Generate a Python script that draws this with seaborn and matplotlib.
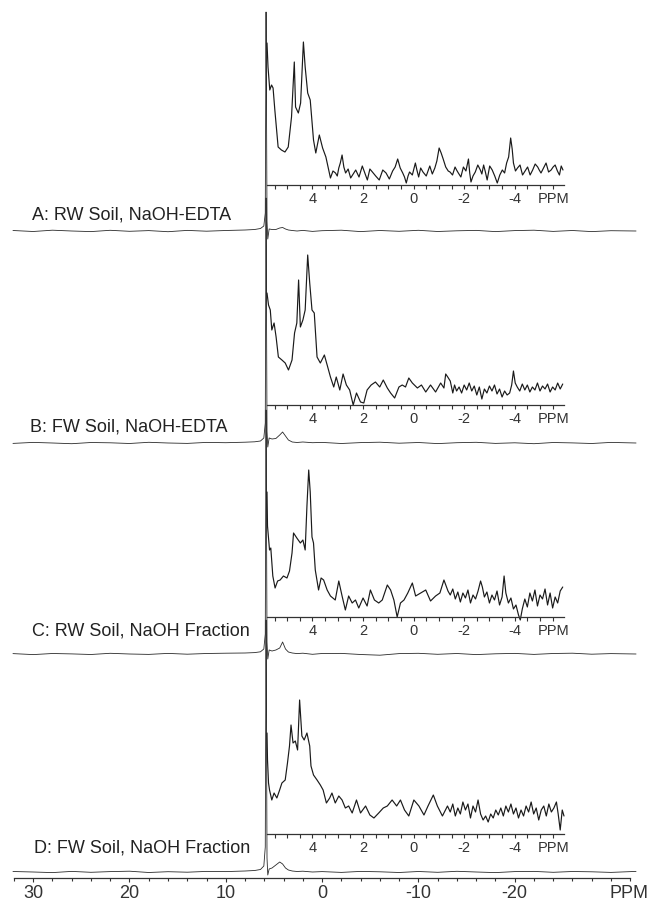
import matplotlib
matplotlib.use("Agg")
import numpy as np
import seaborn as sns
import matplotlib.pyplot as plt
from matplotlib.ticker import FixedLocator, MultipleLocator

# panel labels
labels = ["A: RW Soil, NaOH-EDTA", "B: FW Soil, NaOH-EDTA",
          "C: RW Soil, NaOH Fraction", "D: FW Soil, NaOH Fraction"]

# full 31P spectra, shared ppm grid
main_ppm = [32.1, 30, 28, 26, 24, 22, 20, 18, 16, 14, 12, 10, 8,
            7, 6.4, 6.05, 5.9, 5.82, 5.78, 5.72, 5.64, 5.5, 5.2, 4.8, 4.4, 4.1, 3.8, 3.5, 3.1, 2.6, 2, 1, 0,
            -2, -4, -6, -8, -10, -12, -14, -16, -18, -20, -22, -24, -26, -28, -30, -32.6]
main_A = [0.5, -0.5, 0.8, 0, -0.6, 0.7, -0.3, 0.4, -0.7, 0.6, -0.2, 0.5, 1,
          1.5, 2.5, 5, 18, 219, 140, 10, -8, 2, 1.5, 1.5, 3, 3.5, 2, 1, 0.5, 0, 0.6, -0.4, 0.3,
          0.8, -0.6, 0.5, -0.3, 0.7, -0.5, 0.2, 0.6, -0.6, 0.4, 0.8, -0.4, 0.5, -0.6, 0.3, 0]
main_B = [-0.4, 0.6, 0, -0.7, 0.5, 0.2, -0.5, 0.7, 0, -0.4, 0.6, 0.3, 0.8,
          1.2, 2, 5, 20, 245, 150, 12, -4, 5, 4, 4.5, 8, 11, 7, 3, 1, 0.5, 1, 0.3, 0.6,
          -0.5, 0.4, 0.8, -0.2, 0.5, -0.6, 0.3, 0.7, -0.4, 0.2, -0.7, 0.5, 0.1, -0.5, 0.6, 0]
main_C = [0.4, -0.6, 0.5, 0.1, -0.5, 0.7, 0, -0.4, 0.6, -0.2, 0.5, 0.8, 1,
          1.4, 2.2, 5, 20, 244, 150, 12, -5, 4, 3, 4, 6, 12, 5, 2, 1, 0.4, 0.8, -0.3, 0.5,
          0.6, -0.5, -1.2, 0.4, 0.7, -0.3, 0.5, -0.6, 0.2, 0.6, -0.4, 0.5, 0.8, -0.2, 0.4, 0]
main_D = [0.5, 0, -0.6, 0.6, -0.3, 0.4, 0.8, -0.5, 0.3, -0.2, 0.6, 0.4, 1,
          1.5, 2.5, 6, 25, 252, 160, 14, -3, 3, 4, 7, 10, 8, 4, 2, 1, 0.5, 0.8, 0, 0.4,
          -0.4, 0.6, 0.2, -0.5, 0.5, -0.3, 0.7, 0, -0.6, 0.4, 0.6, -0.3, 0.5, 0.2, -0.4, 0.6]

# expanded regions (inset traces)
inset_A_ppm = [5.8, 5.76, 5.69, 5.62, 5.56, 5.49, 5.36, 5.23, 5.09, 4.96,
               4.83, 4.72, 4.67, 4.56, 4.47, 4.36, 4.29, 4.19, 4.09, 3.96,
               3.87, 3.73, 3.6, 3.47, 3.29, 3.19, 3.09, 3.02, 2.96, 2.9,
               2.83, 2.76, 2.69, 2.59, 2.49, 2.39, 2.29, 2.16, 2.03, 1.93,
               1.83, 1.73, 1.63, 1.5, 1.36, 1.22, 1.09, 0.96, 0.83, 0.73,
               0.63, 0.53, 0.43, 0.36, 0.29, 0.22, 0.16, 0.05, -0.07, -0.13,
               -0.2, -0.28, -0.37, -0.5, -0.64, -0.74, -0.84, -0.92, -1.01, -1.09,
               -1.17, -1.27, -1.37, -1.44, -1.54, -1.64, -1.7, -1.77, -1.87, -1.97,
               -2.07, -2.17, -2.22, -2.27, -2.35, -2.44, -2.54, -2.64, -2.7, -2.77,
               -2.84, -2.91, -3.01, -3.11, -3.21, -3.31, -3.41, -3.51, -3.6, -3.68,
               -3.76, -3.84, -3.9, -3.95, -4.03, -4.11, -4.21, -4.31, -4.41, -4.51,
               -4.61, -4.71, -4.81, -4.91, -4.97, -5.04, -5.14, -5.24, -5.34, -5.44,
               -5.52, -5.6, -5.69, -5.77, -5.84, -5.91]
inset_A = [142, 118, 95, 100, 97, 75, 38, 35, 33, 38,
           68, 123, 78, 72, 82, 143, 118, 92, 85, 45,
           32, 50, 37, 28, 7, 14, 12, 9, 17, 22,
           30, 18, 12, 16, 7, 11, 15, 8, 19, 12,
           5, 16, 13, 9, 5, 15, 12, 6, 14, 18,
           26, 17, 12, 8, 2, 9, 13, 10, 22, 15,
           8, 17, 13, 9, 19, 11, 17, 24, 37, 32,
           26, 18, 14, 13, 10, 18, 15, 12, 8, 18,
           14, 26, 12, 3, 9, 13, 20, 15, 11, 20,
           13, 5, 19, 15, 9, 2, 10, 15, 12, 22,
           28, 47, 36, 22, 14, 17, 20, 10, 14, 18,
           10, 15, 21, 18, 15, 12, 17, 22, 13, 15,
           18, 20, 14, 10, 19, 15]

inset_B_ppm = [5.8, 5.74, 5.67, 5.61, 5.52, 5.44, 5.35, 5.21, 5.08, 4.95, 4.81,
               4.71, 4.62, 4.55, 4.48, 4.38, 4.29, 4.19, 4.11, 4.02, 3.93,
               3.82, 3.69, 3.53, 3.42, 3.29, 3.16, 3.06, 2.92, 2.79, 2.66,
               2.53, 2.39, 2.26, 2.1, 1.97, 1.84, 1.68, 1.51, 1.34, 1.2,
               1.04, 0.91, 0.75, 0.58, 0.45, 0.32, 0.19, 0.05, -0.15, -0.31,
               -0.48, -0.67, -0.87, -1.07, -1.2, -1.27, -1.35, -1.45, -1.55, -1.62,
               -1.7, -1.8, -1.9, -2.0, -2.1, -2.2, -2.3, -2.4, -2.5, -2.6,
               -2.7, -2.8, -2.9, -3.0, -3.1, -3.2, -3.3, -3.4, -3.5, -3.6,
               -3.7, -3.8, -3.88, -3.95, -4.02, -4.1, -4.2, -4.3, -4.4, -4.5,
               -4.6, -4.7, -4.8, -4.9, -5.0, -5.1, -5.2, -5.3, -5.4, -5.5,
               -5.6, -5.7, -5.8, -5.9]
inset_B = [112, 100, 95, 75, 82, 68, 48, 45, 42, 35, 45,
           72, 82, 125, 78, 85, 95, 150, 122, 95, 92,
           48, 42, 50, 40, 28, 18, 28, 15, 31, 20,
           15, 0, 12, 3, 2, 15, 20, 23, 18, 25,
           17, 12, 7, 18, 20, 18, 27, 22, 17, 20,
           13, 20, 13, 22, 17, 31, 28, 24, 12, 20,
           14, 18, 12, 20, 15, 22, 14, 19, 10, 18,
           6, 16, 12, 19, 14, 20, 11, 16, 8, 14,
           10, 12, 20, 34, 22, 18, 14, 21, 15, 20,
           13, 18, 15, 22, 14, 19, 16, 21, 13, 18,
           15, 22, 16, 21]

inset_C_ppm = [5.8, 5.78, 5.7, 5.65, 5.57, 5.48, 5.38, 5.28, 5.15, 5.01,
               4.91, 4.81, 4.75, 4.62, 4.48, 4.38, 4.29, 4.22, 4.15, 4.09,
               4.02, 3.96, 3.89, 3.76, 3.66, 3.56, 3.42, 3.29, 3.1, 2.96,
               2.83, 2.7, 2.57, 2.43, 2.3, 2.17, 2.0, 1.84, 1.71, 1.55,
               1.38, 1.24, 1.04, 0.91, 0.78, 0.65, 0.52, 0.38, 0.23, 0.05,
               -0.08, -0.28, -0.48, -0.67, -0.87, -1.04, -1.2, -1.36, -1.45, -1.55,
               -1.65, -1.75, -1.85, -1.95, -2.05, -2.15, -2.25, -2.35, -2.45, -2.55,
               -2.65, -2.72, -2.8, -2.9, -3.0, -3.1, -3.2, -3.3, -3.4, -3.5,
               -3.58, -3.65, -3.75, -3.85, -3.95, -4.05, -4.15, -4.22, -4.3, -4.4,
               -4.5, -4.6, -4.7, -4.8, -4.9, -5.0, -5.1, -5.2, -5.3, -5.4,
               -5.5, -5.6, -5.7, -5.8, -5.9]
inset_C = [125, 91, 67, 69, 41, 29, 36, 37, 41, 39,
           46, 64, 84, 79, 74, 77, 67, 111, 147, 125,
           80, 74, 47, 27, 39, 37, 27, 21, 17, 36,
           21, 7, 21, 14, 17, 9, 19, 11, 27, 17,
           14, 17, 32, 27, 17, 0, 14, 17, 24, 34,
           21, 24, 27, 16, 21, 24, 37, 26, 22, 28,
           18, 25, 15, 24, 19, 27, 14, 22, 18, 26,
           36, 30, 20, 25, 14, 22, 17, 26, 12, 20,
           41, 24, 14, 19, 8, 12, 2, -3, 8, 18,
           10, 24, 16, 27, 11, 22, 18, 28, 12, 24,
           9, 20, 14, 26, 30]

inset_D_ppm = [5.8, 5.78, 5.74, 5.7, 5.61, 5.52, 5.41, 5.3, 5.21, 5.08,
               4.99, 4.91, 4.85, 4.77, 4.68, 4.59, 4.51, 4.42, 4.33, 4.22,
               4.11, 4.06, 3.96, 3.82, 3.69, 3.58, 3.45, 3.32, 3.23, 3.1,
               2.96, 2.83, 2.7, 2.57, 2.43, 2.26, 2.1, 1.9, 1.73, 1.57,
               1.38, 1.2, 1.04, 0.85, 0.67, 0.52, 0.36, 0.19, -0.01, -0.21,
               -0.41, -0.57, -0.78, -0.94, -1.14, -1.34, -1.45, -1.55, -1.65, -1.75,
               -1.85, -1.95, -2.05, -2.15, -2.25, -2.35, -2.45, -2.55, -2.65, -2.75,
               -2.85, -2.95, -3.05, -3.15, -3.25, -3.35, -3.45, -3.55, -3.65, -3.75,
               -3.85, -3.95, -4.05, -4.15, -4.25, -4.35, -4.45, -4.55, -4.65, -4.75,
               -4.85, -4.95, -5.05, -5.15, -5.25, -5.35, -5.45, -5.55, -5.65, -5.72,
               -5.8, -5.88, -5.95]
inset_D = [101, 74, 51, 44, 34, 41, 36, 44, 51, 54,
           71, 88, 109, 91, 93, 84, 134, 98, 94, 101,
           88, 68, 59, 54, 49, 44, 31, 36, 41, 31,
           38, 34, 26, 28, 21, 34, 21, 28, 19, 16,
           21, 26, 28, 34, 28, 34, 24, 18, 34, 28,
           19, 28, 39, 28, 18, 28, 22, 30, 18, 26,
           20, 32, 24, 30, 16, 28, 22, 34, 20, 14,
           18, 12, 20, 16, 24, 19, 26, 18, 28, 22,
           30, 20, 26, 16, 24, 18, 28, 22, 32, 20,
           26, 14, 24, 28, 18, 30, 22, 26, 32, 20,
           4, 24, 18]

main_ticks = [30, 20, 10, 0, -10, -20]
inset_ticks = [4, 2, 0, -2, -4]

sns.set_style("white")
plt.rcParams['font.family'] = ['Liberation Sans', 'DejaVu Sans']

W, H = 648, 901
fig = plt.figure(figsize=(W / 100, H / 100), dpi=100)
ink = '#1a1a1a'

# layout in pixels
axis_y = 878
offsets = [647, 435, 224, 6]          # baseline of each stacked spectrum above the axis
inset_axis_y = [185, 405, 617, 834]
label_pos = [(32, 215), (30, 427), (32, 631), (34, 848)]

ax = fig.add_axes([12 / W, (H - axis_y) / H, 625 / W, axis_y / H])
ax.patch.set_alpha(0)
for vals, off in zip([main_A, main_B, main_C, main_D], offsets):
    sns.lineplot(x=main_ppm, y=np.array(vals) + off, ax=ax, color='#2a2a2a',
                 linewidth=0.6, sort=False, estimator=None)
ax.set_xlim(32.2, -32.7)
ax.set_ylim(0, axis_y)
sns.despine(ax=ax, left=True)
ax.spines['bottom'].set_bounds(-32, 32)
ax.spines['bottom'].set_linewidth(0.9)
ax.spines['bottom'].set_color('#333333')
ax.set_yticks([])
ax.xaxis.set_major_locator(FixedLocator(main_ticks))
ax.xaxis.set_minor_locator(MultipleLocator(2))
ax.set_xticklabels([str(t) for t in main_ticks])
ax.tick_params(axis='x', which='both', direction='out', color='#333333',
               width=0.8, bottom=True, labelsize=13, pad=2, labelcolor='#333333')
ax.tick_params(axis='x', which='major', length=3.2)
ax.tick_params(axis='x', which='minor', length=2.5)
ax.annotate('PPM', xy=(-31.9, 0), xycoords=('data', 'axes fraction'),
            xytext=(0, -5.2), textcoords='offset points', ha='center', va='top',
            fontsize=13, color='#333333')

for lab, (lx, ly) in zip(labels, label_pos):
    fig.text(lx / W, 1 - ly / H, lab, ha='left', va='center', fontsize=13, color='#222222')

inset_data = [(inset_A_ppm, inset_A), (inset_B_ppm, inset_B),
              (inset_C_ppm, inset_C), (inset_D_ppm, inset_D)]
for (px, py), ay in zip(inset_data, inset_axis_y):
    iax = fig.add_axes([267 / W, (H - ay) / H, 297 / W, 165 / H])
    iax.patch.set_alpha(0)
    sns.lineplot(x=px, y=py, ax=iax, color=ink, linewidth=0.85, sort=False, estimator=None)
    for ln in iax.lines:
        ln.set_clip_on(False)
    iax.set_xlim(5.8, -5.95)
    iax.set_ylim(0, 165)
    sns.despine(ax=iax, left=True)
    iax.spines['bottom'].set_linewidth(0.9)
    iax.spines['bottom'].set_color('#333333')
    iax.set_yticks([])
    iax.xaxis.set_major_locator(FixedLocator(inset_ticks))
    iax.xaxis.set_minor_locator(MultipleLocator(0.5))
    iax.set_xticklabels([str(t) for t in inset_ticks])
    iax.tick_params(axis='x', which='both', direction='out', length=2.8, width=0.8,
                    color='#333333', bottom=True, labelsize=10.5, pad=2.5,
                    labelcolor='#333333')
    iax.annotate('PPM', xy=(-5.55, 0), xycoords=('data', 'axes fraction'),
                 xytext=(0, -5.3), textcoords='offset points', ha='center', va='top',
                 fontsize=10.5, color='#333333')

fig.savefig('out.png', dpi=100)
